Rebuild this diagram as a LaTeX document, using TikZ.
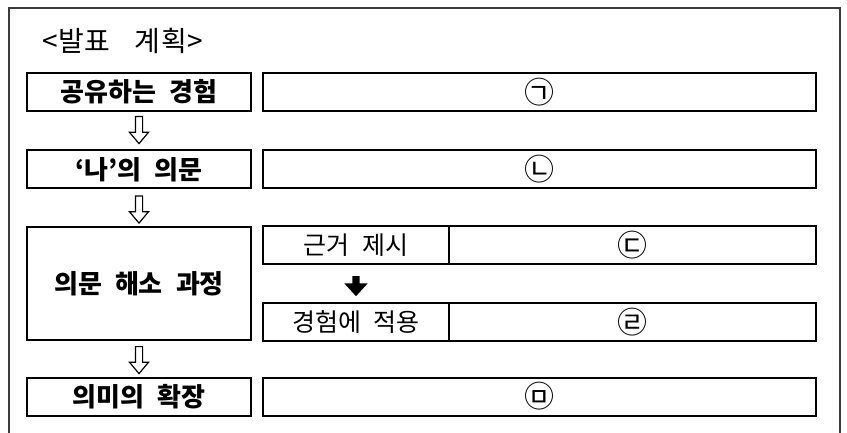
\documentclass[tikz,border=0pt]{standalone}
\usepackage{fontspec}
\setmainfont{Noto Sans CJK KR}
\newfontfamily\krbox{Noto Sans CJK KR}[WordSpace=2.2]
\newfontfamily\krtitle{Noto Sans CJK KR}[LetterSpace=2,WordSpace=3.6]
\usetikzlibrary{shapes.arrows}
\definecolor{framegray}{HTML}{3C3C3C}

\begin{document}
\begin{tikzpicture}[x=1pt,y=-1pt,
    title/.style={anchor=west,inner sep=0pt,font=\krtitle\fontsize{28}{28}\selectfont},
    stage/.style={draw,line width=2pt,minimum width=224pt,minimum height=38pt,
      inner sep=0pt,font=\krbox\fontsize{26}{26}\selectfont\bfseries},
    slot/.style={draw,line width=2pt,minimum width=553pt,minimum height=38pt,
      inner sep=0pt,font=\fontsize{30}{30}\selectfont},
    cell/.style={draw,line width=1.6pt,minimum height=38pt,inner sep=0pt,
      outer sep=0pt,font=\krbox\fontsize{25}{25}\selectfont},
    hollow/.style={single arrow,draw,line width=1.2pt,shape border rotate=270,
      minimum height=27pt,inner sep=3pt,single arrow head extend=6pt,
      single arrow tip angle=80,anchor=tail},
    blackarrow/.style={single arrow,fill=black,shape border rotate=270,
      minimum height=20pt,inner sep=3.5pt,single arrow head extend=8pt,
      single arrow tip angle=85,anchor=tail}]
  \useasboundingbox (0,0) rectangle (847,433);
  % frame, open at the bottom
  \draw[line width=1.8pt,framegray] (9,433) -- (9,8) -- (840,8) -- (840,433);
  \node[title] (plan) at (42,41) {<발표 계획>};
  % left column and right slots
  \node[stage] (share) at (139,92) {공유하는 경험};
  \node[slot] (a) at (539.5,92) {㉠};
  \node[stage] (doubt) at (139,169.5) {‘나’의 의문};
  \node[slot] (b) at (539.5,169.5) {㉡};
  \node[stage,minimum height=113pt] (solve) at (139,283.5) {의문 해소 과정};
  \node[cell,minimum width=186pt] (ground) at (356,245) {근거 제시};
  \node[cell,minimum width=367pt,font=\fontsize{30}{30}\selectfont] (c) at (632.5,245) {㉢};
  \node[cell,minimum width=186pt] (apply) at (356,322) {경험에 적용};
  \node[cell,minimum width=367pt,font=\fontsize{30}{30}\selectfont] (d) at (632.5,322) {㉣};
  \node[stage] (extend) at (139,396.5) {의미의 확장};
  \node[slot] (e) at (539.5,396.5) {㉤};
  % arrows
  \node[hollow] (ar1) at ([yshift=-4pt]share.south) {};
  \node[hollow] (ar2) at ([yshift=-6pt]doubt.south) {};
  \node[hollow] (ar3) at ([yshift=-5pt]solve.south) {};
  \node[blackarrow] (ar4) at ([yshift=-12pt]ground.south) {};
\end{tikzpicture}
\end{document}
